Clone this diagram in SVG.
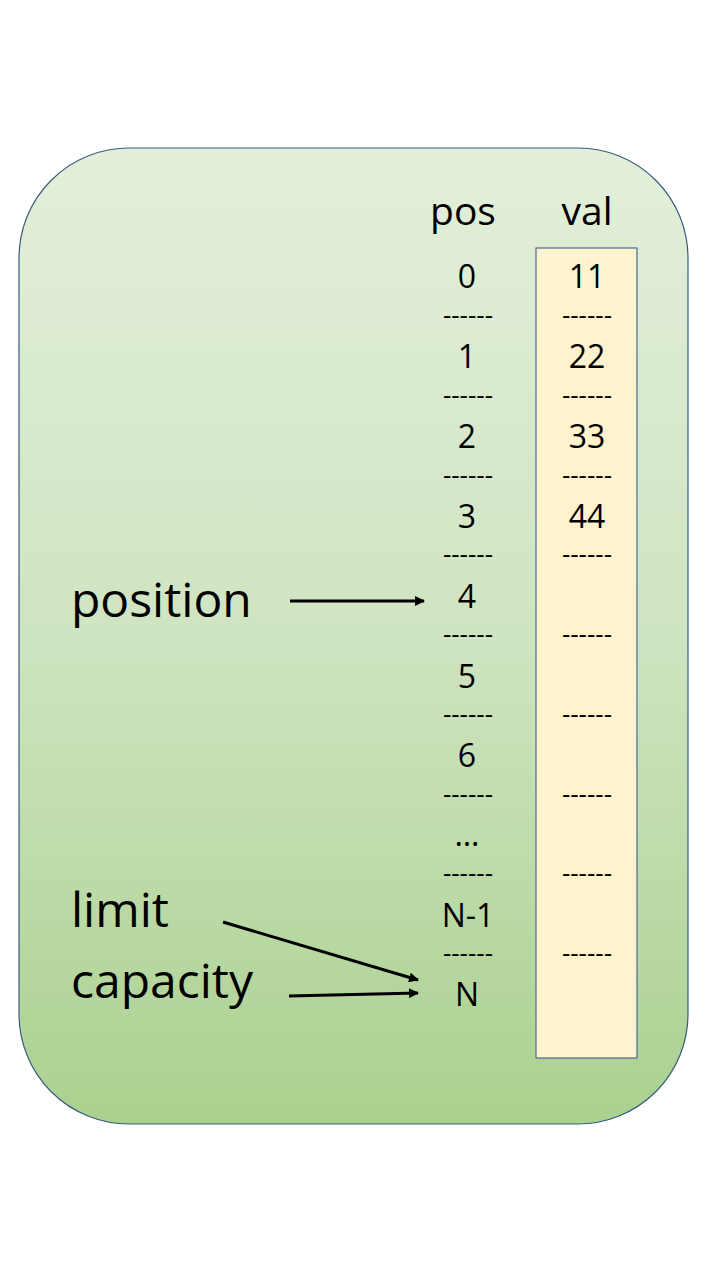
<svg xmlns="http://www.w3.org/2000/svg" width="720" height="1280" viewBox="0 0 720 1280">
<defs>
<linearGradient id="bg" x1="0" y1="0" x2="0" y2="1">
<stop offset="0" stop-color="#e3efda"/>
<stop offset="0.5" stop-color="#cfe4c1"/>
<stop offset="1" stop-color="#aad18f"/>
</linearGradient>
<marker id="ah" viewBox="0 0 10 10" refX="9" refY="5" markerWidth="3.8" markerHeight="3.3" orient="auto" markerUnits="strokeWidth">
<path d="M0,0 L10,5 L0,10 z" fill="#000"/>
</marker>
<style>
text{font-family:"Open Sans","Liberation Sans",sans-serif;fill:#000}
.hd{font-size:39px;text-anchor:middle}
.n{font-size:32px;text-anchor:middle}
.d{font-size:26px;text-anchor:middle}
.lb{font-size:48px}
.c{stroke:#000;stroke-width:3;fill:none;marker-end:url(#ah)}
</style>
</defs>
<rect width="720" height="1280" fill="#fff"/>
<g id="panel">
<rect x="19" y="148" width="669" height="976" rx="110" ry="110" fill="url(#bg)" stroke="#3b5b7c" stroke-width="1.2"/>
</g>
<g id="valcol">
<rect x="536" y="248" width="101" height="810" fill="#fff2cc" stroke="#4a6a9a" stroke-width="1.2"/>
</g>
<g id="headers">
<text class="hd" x="463" y="225">pos</text>
<text class="hd" x="587" y="225">val</text>
</g>
<g id="pos">
<text class="n" x="467" y="288">0</text>
<text class="n" x="467" y="368">1</text>
<text class="n" x="467" y="448">2</text>
<text class="n" x="467" y="528">3</text>
<text class="n" x="467" y="608">4</text>
<text class="n" x="467" y="688">5</text>
<text class="n" x="467" y="767">6</text>
<text class="n" x="467" y="846">…</text>
<text class="n" x="468" y="927">N-1</text>
<text class="n" x="467" y="1006">N</text>
</g>
<g id="pos-dashes">
<text class="d" x="468" y="324">------</text>
<text class="d" x="468" y="404">------</text>
<text class="d" x="468" y="484">------</text>
<text class="d" x="468" y="563">------</text>
<text class="d" x="468" y="643">------</text>
<text class="d" x="468" y="723">------</text>
<text class="d" x="468" y="803">------</text>
<text class="d" x="468" y="882">------</text>
<text class="d" x="468" y="962">------</text>
</g>
<g id="val">
<text class="n" x="587" y="288">11</text>
<text class="n" x="587" y="368">22</text>
<text class="n" x="587" y="448">33</text>
<text class="n" x="587" y="528">44</text>
</g>
<g id="val-dashes">
<text class="d" x="587" y="324">------</text>
<text class="d" x="587" y="404">------</text>
<text class="d" x="587" y="484">------</text>
<text class="d" x="587" y="563">------</text>
<text class="d" x="587" y="643">------</text>
<text class="d" x="587" y="723">------</text>
<text class="d" x="587" y="803">------</text>
<text class="d" x="587" y="882">------</text>
<text class="d" x="587" y="962">------</text>
</g>
<g id="labels">
<text class="lb" x="71" y="617">position</text>
<text class="lb" x="71" y="927">limit</text>
<text class="lb" x="71" y="998">capacity</text>
</g>
<g id="connectors">
<line class="c" x1="290" y1="601" x2="424" y2="601"/>
<line class="c" x1="223" y1="922" x2="418" y2="980"/>
<line class="c" x1="289" y1="996" x2="418" y2="993"/>
</g>
</svg>
